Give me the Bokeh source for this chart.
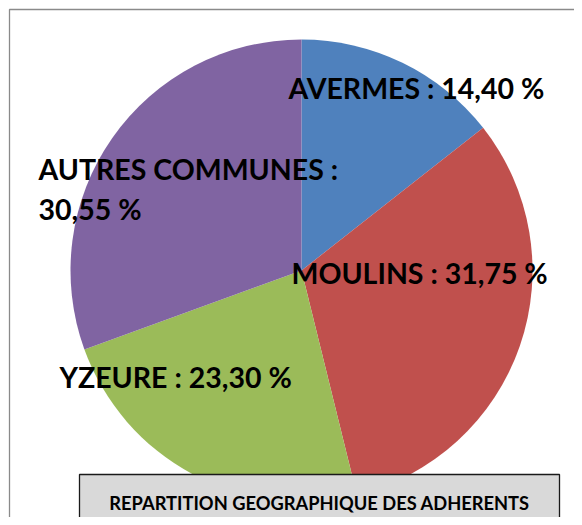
import math
from bokeh.plotting import figure
from bokeh.models import Range1d, ColumnDataSource
from bokeh.core.properties import value
from bokeh.embed import file_html
from bokeh.resources import INLINE

# ---- data ----
categories = ["AVERMES", "MOULINS", "YZEURE", "AUTRES COMMUNES"]
percents = [14.40, 31.75, 23.30, 30.55]
colors = ["#4f81bd", "#c0504d", "#9bbb59", "#8064a2"]
title_text = "REPARTITION GEOGRAPHIQUE DES ADHERENTS"

W, H = 574, 517
FONT = "Lato"

def px(x):
    return x

def py(y):
    return H - (y - 4)

p = figure(width=W, height=H, output_backend="svg", toolbar_location=None,
           x_range=Range1d(0, W), y_range=Range1d(0, H), min_border=0)
p.axis.visible = False
p.grid.visible = False
p.outline_line_color = None
p.background_fill_color = "white"
p.border_fill_color = "white"

# chart frame
p.quad(left=[px(9)], right=[px(620)], top=[py(13)], bottom=[py(580)],
       fill_color=None, line_color="#8a8a8a", line_width=1.3)

# pie
cx, cy, r = px(301), py(274), 231
total = sum(percents)
starts, ends = [], []
a = math.pi / 2
for v in percents:
    sweep = 2 * math.pi * v / total
    starts.append(a)
    ends.append(a - sweep)
    a -= sweep
src = ColumnDataSource(dict(start=starts, end=ends, color=colors))
p.wedge(x=cx, y=cy, radius=r, start_angle="start", end_angle="end",
        direction="clock", fill_color="color", line_color=None, source=src)

# labels
def fmt(v):
    return ("%.2f" % v).replace(".", ",") + " %"

label_pos = {  # reference coordinates of first line (left, baseline)
    "AVERMES": (288, 102),
    "MOULINS": (291, 287),
    "YZEURE": (59, 391),
    "AUTRES COMMUNES": (38, 183),
}
OFF = 11
lx, ly, lt = [], [], []
for name, v in zip(categories, percents):
    x0, y0 = label_pos[name]
    if name == "AUTRES COMMUNES":
        lines = [name + " :", fmt(v)]
    else:
        lines = [name + " : " + fmt(v)]
    for i, t in enumerate(lines):
        lx.append(px(x0))
        ly.append(py(y0 + 40 * i - OFF))
        lt.append(t)
p.text(x=lx, y=ly, text=lt, text_font=value(FONT), text_font_style="bold",
       text_font_size="28.5px", text_color="black", text_align="left",
       text_baseline="alphabetic")

# title box
p.quad(left=[px(79)], right=[px(559)], top=[py(478)], bottom=[py(580)],
       fill_color="#d9d9d9", line_color="#1a1a1a", line_width=1.3)
p.text(x=[px(319)], y=[py(506)], text=[title_text], text_font=value(FONT),
       text_font_style="bold", text_font_size="18.3px", text_color="black",
       text_align="center", text_baseline="alphabetic")

open("out.html", "w").write(file_html(p, INLINE))
